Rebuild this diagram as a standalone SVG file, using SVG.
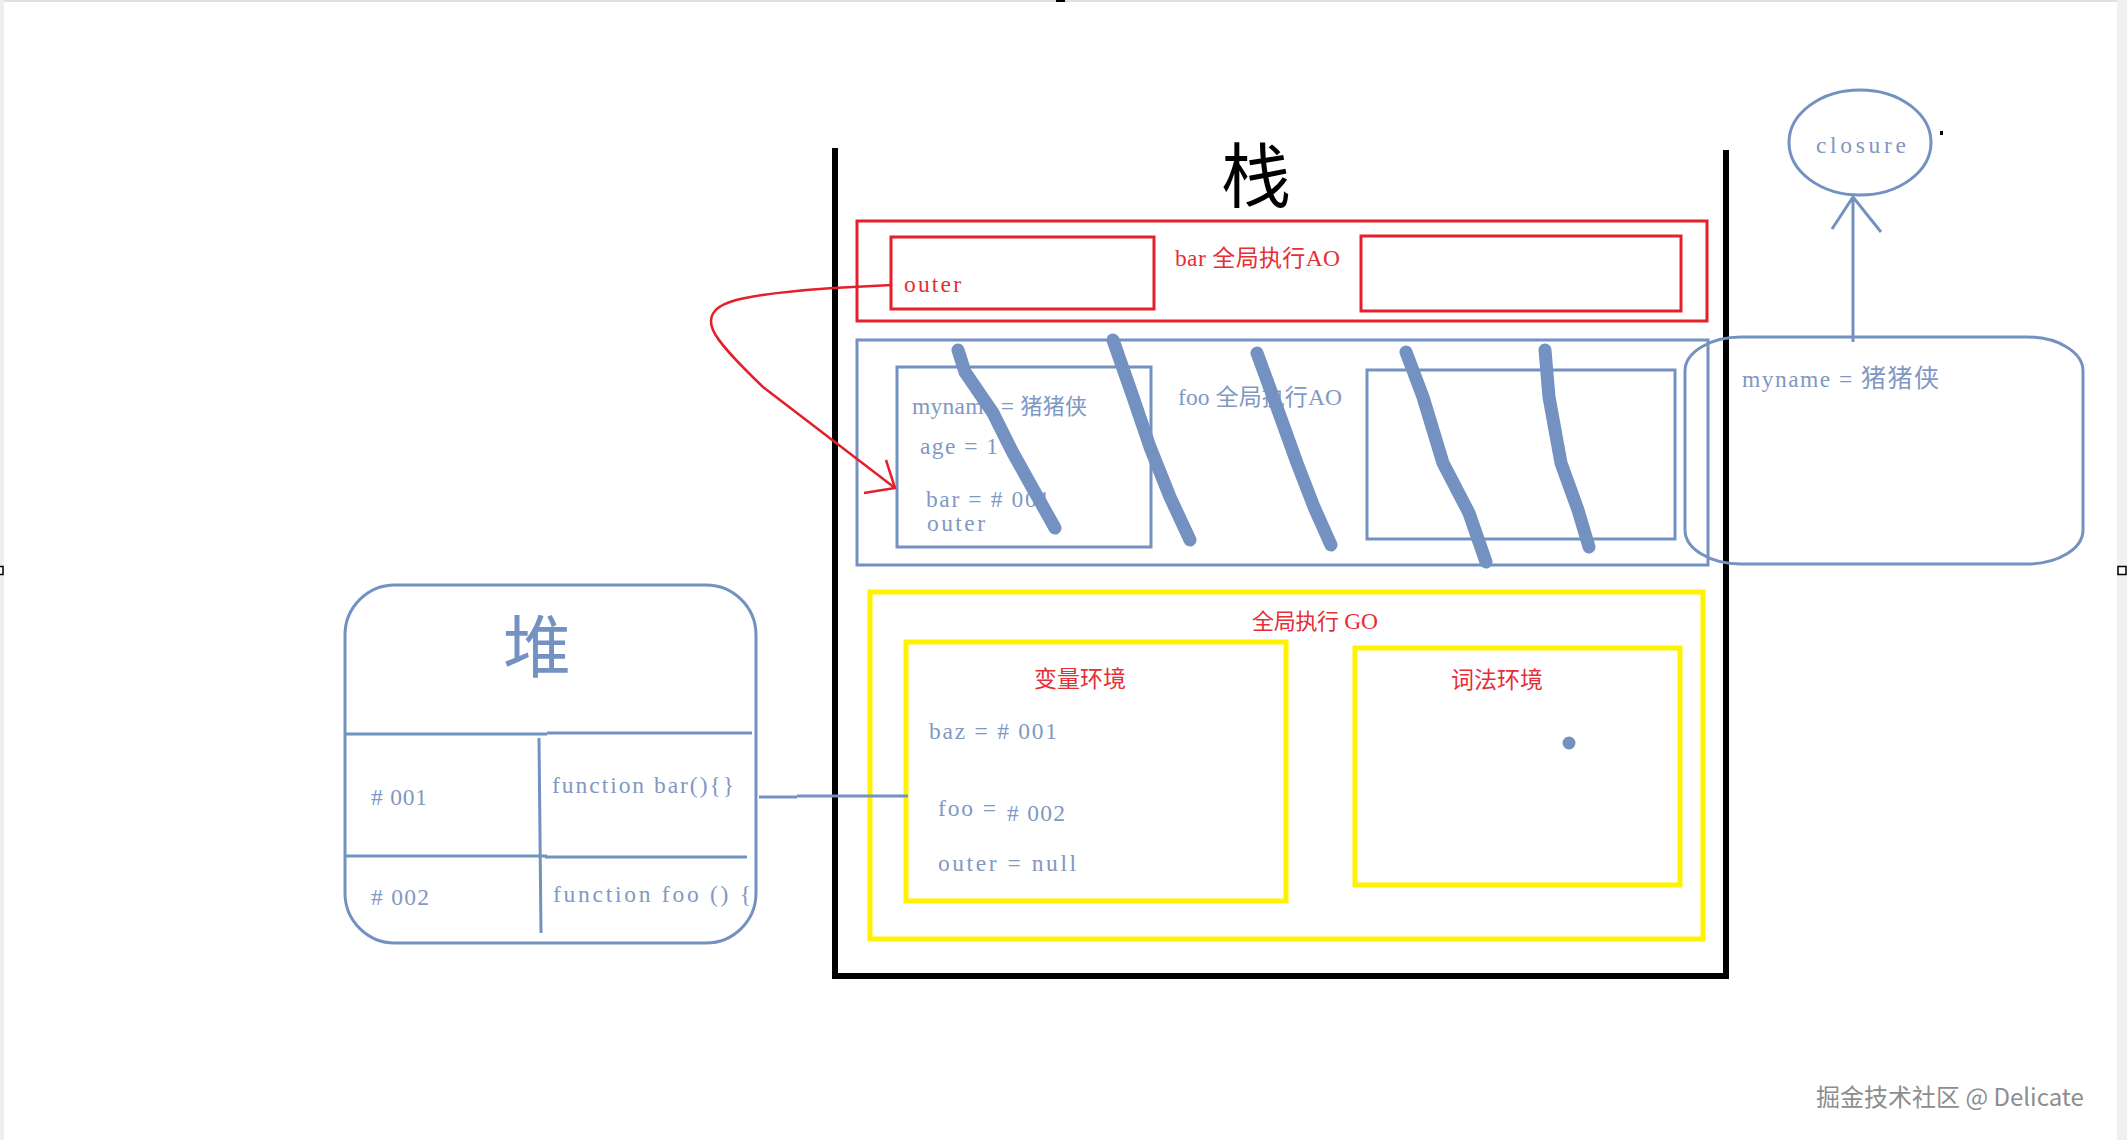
<svg xmlns="http://www.w3.org/2000/svg" width="2127" height="1140" viewBox="0 0 2127 1140">
<style>
.bl{fill:none;stroke:#7391C1;stroke-width:3}
.rd{fill:none;stroke:#E3202B;stroke-width:3}
.yl{fill:none;stroke:#FFF200;stroke-width:5}
.sc{fill:none;stroke:#7391C1;stroke-width:13;stroke-linecap:round;stroke-linejoin:round}
.t{font-family:"Liberation Serif","Noto Sans CJK SC",serif;font-size:23.5px}
.tb{fill:#7F98C4}
.tr{fill:#E52E36}
.c{font-family:"Noto Sans CJK SC",sans-serif}
</style>
<rect width="2127" height="1140" fill="#ffffff"/>
<g id="frame">
<rect x="0" y="0" width="2127" height="2" fill="#e0e0e0"/>
<rect x="0" y="0" width="4" height="1140" fill="#eeeeee"/>
<rect x="2117" y="0" width="10" height="1140" fill="#f0f0f0"/>
<rect x="1056" y="0" width="9" height="2" fill="#000"/>
<rect x="-5" y="566.5" width="8" height="8" fill="#fff" stroke="#000" stroke-width="1.5"/>
<rect x="2118" y="566.5" width="8" height="8" fill="#fff" stroke="#000" stroke-width="1.5"/>
<rect x="1940" y="131" width="3" height="4" fill="#000"/>
</g>
<g id="stack">
<path d="M835,148 V976 H1726 V150" fill="none" stroke="#000" stroke-width="6"/>
<text x="1256" y="202" text-anchor="middle" font-family="Noto Sans CJK SC,sans-serif" font-size="70" fill="#000">栈</text>
</g>
<g id="bar-ao">
<rect class="rd" x="857" y="221" width="850" height="100"/>
<rect class="rd" x="891" y="237" width="263" height="72"/>
<rect class="rd" x="1361" y="236" width="320" height="75"/>
<text class="t tr" x="904" y="292" textLength="57">outer</text>
<text class="t tr" x="1175" y="266" textLength="165">bar <tspan class="c" font-size="23">全局执行</tspan>AO</text>
</g>
<g id="foo-ao">
<rect class="bl" x="857" y="340" width="851" height="225"/>
<rect class="bl" x="897" y="367" width="254" height="180"/>
<rect class="bl" x="1367" y="370" width="308" height="169"/>
<text class="t tb" x="912" y="414" textLength="175">myname = <tspan class="c" font-size="22">猪猪侠</tspan></text>
<text class="t tb" x="920" y="454" textLength="78">age = 1</text>
<text class="t tb" x="926" y="507" font-size="21" textLength="124">bar = # 001</text>
<text class="t tb" x="927" y="531" font-size="21" textLength="58">outer</text>
<text class="t tb" x="1178" y="405" textLength="164">foo <tspan class="c" font-size="23">全局执行</tspan>AO</text>
</g>
<g id="go">
<rect class="yl" x="870" y="592" width="833" height="347"/>
<text class="t tr" x="1252" y="629" textLength="126"><tspan class="c" font-size="22">全局执行</tspan> GO</text>
</g>
<g id="var-env">
<rect class="yl" x="906" y="642" width="380" height="259"/>
<text class="c tr" x="1034" y="687" font-size="23">变量环境</text>
<text class="t tb" x="929" y="739" textLength="128">baz = # 001</text>
<text class="t tb" x="938" y="816" textLength="58">foo =</text>
<text class="t tb" x="1007" y="821" textLength="58"># 002</text>
<text class="t tb" x="938" y="871" textLength="138">outer = null</text>
</g>
<g id="lex-env">
<rect class="yl" x="1355" y="648" width="325" height="237"/>
<text class="c tr" x="1451" y="688" font-size="23">词法环境</text>
<circle cx="1569" cy="743" r="6.5" fill="#7391C1"/>
</g>
<g id="heap">
<rect class="bl" x="345" y="585" width="411" height="358" rx="50" ry="50"/>
<path class="bl" d="M345,734 H547 M547,733 H752 M345,856 H547 M545,857 H747 M539,738 L541,933"/>
<text x="537" y="672" text-anchor="middle" font-family="Noto Sans CJK SC,sans-serif" font-size="68" fill="#7391C1">堆</text>
<text class="t tb" x="371" y="805" textLength="56"># 001</text>
<text class="t tb" x="552" y="793" textLength="182">function bar(){}</text>
<text class="t tb" x="371" y="905" textLength="58"># 002</text>
<text class="t tb" x="553" y="902" textLength="198">function foo () {</text>
</g>
<g id="closure">
<ellipse class="bl" cx="1860" cy="142.5" rx="71" ry="52.5"/>
<text class="t tb" x="1816" y="153" font-size="26" textLength="90">closure</text>
</g>
<g id="scope">
<rect class="bl" x="1685" y="337" width="398" height="227" rx="56" ry="34"/>
<text class="t tb" x="1742" y="387" font-size="25" textLength="197">myname = <tspan class="c" font-size="25">猪猪侠</tspan></text>
</g>
<g id="connectors">
<path d="M892,285 L833,288 C800,290 750,295 730,302 C712,308 708,318 713,330 C718,342 735,360 763,387 L895,488" fill="none" stroke="#E3202B" stroke-width="2.5"/>
<path d="M886,460 L895,488 L864,493" fill="none" stroke="#E3202B" stroke-width="2.5"/>
<path class="bl" d="M759,797 H797 M797,796 H908"/>
<path class="bl" d="M1853,342 V197 M1832,229 L1853,197 L1881,232"/>
</g>
<g id="strikes">
<polyline class="sc" points="958,350 965,372 993,413 1013,453 1032,487 1055,528"/>
<polyline class="sc" points="1113,340 1133,397 1150,447 1170,497 1190,540"/>
<polyline class="sc" points="1257,353 1279,413 1297,463 1314,507 1331,545"/>
<polyline class="sc" points="1406,352 1423,397 1443,463 1469,513 1486,562"/>
<polyline class="sc" points="1545,350 1549,397 1561,463 1578,510 1589,547"/>
</g>
<g id="watermark">
<text x="1816" y="1106" font-family="Noto Sans CJK SC,sans-serif" font-size="24" fill="#8d8d8d">掘金技术社区 @ Delicate</text>
</g>
</svg>
